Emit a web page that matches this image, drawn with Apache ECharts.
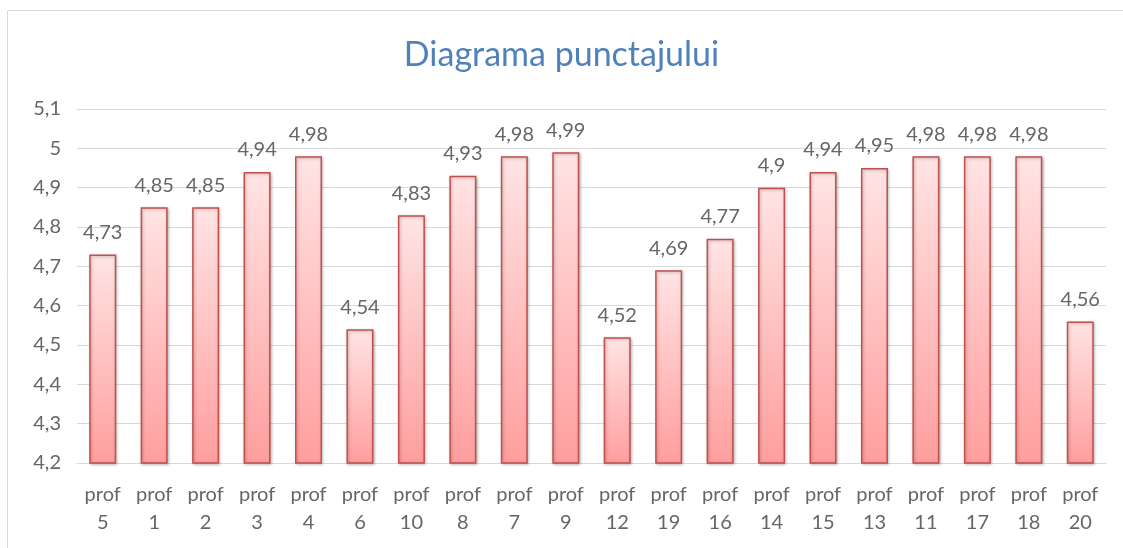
<!DOCTYPE html>
<html>
<head>
<meta charset="utf-8">
<script src="https://cdn.jsdelivr.net/npm/echarts@6/dist/echarts.min.js"></script>
<style>
  html, body { margin: 0; padding: 0; background: #fff; }
  #main { width: 1123px; height: 548px; }
</style>
</head>
<body>
<div id="main"></div>
<script>
var categories = ['prof\n5', 'prof\n1', 'prof\n2', 'prof\n3', 'prof\n4', 'prof\n6', 'prof\n10', 'prof\n8', 'prof\n7', 'prof\n9',
    'prof\n12', 'prof\n19', 'prof\n16', 'prof\n14', 'prof\n15', 'prof\n13', 'prof\n11', 'prof\n17', 'prof\n18', 'prof\n20'];
var scores = [4.73, 4.85, 4.85, 4.94, 4.98, 4.54, 4.83, 4.93, 4.98, 4.99,
    4.52, 4.69, 4.77, 4.9, 4.94, 4.95, 4.98, 4.98, 4.98, 4.56];

var fontName = 'Lato, "Open Sans", sans-serif';
var textGrey = '#666666';

function comma(v) {
    return String(Math.round(v * 100) / 100).replace('.', ',');
}

var myChart = echarts.init(document.getElementById('main'));
myChart.setOption({
    backgroundColor: '#fff',
    animation: false,
    title: {
        text: 'Diagrama punctajului',
        left: 'center',
        top: 33,
        textStyle: {
            color: '#4F81BD',
            fontFamily: fontName,
            fontSize: 34,
            fontWeight: 'normal'
        }
    },
    graphic: [{
        type: 'rect',
        shape: {x: 7.5, y: 10.5, width: 1300, height: 700},
        style: {fill: 'none', stroke: '#d9d9d9', lineWidth: 1},
        silent: true
    }],
    grid: {
        left: 77,
        right: 17,
        top: 109,
        bottom: 85
    },
    xAxis: {
        type: 'category',
        data: categories,
        axisLine: {lineStyle: {color: '#d9d9d9'}},
        axisTick: {show: false},
        axisLabel: {
            color: textGrey,
            fontFamily: fontName,
            fontSize: 20,
            lineHeight: 28,
            margin: 18,
            interval: 0
        }
    },
    yAxis: {
        type: 'value',
        min: 4.2,
        max: 5.1,
        interval: 0.1,
        axisLine: {show: false},
        axisTick: {show: false},
        splitLine: {lineStyle: {color: '#d9d9d9'}},
        axisLabel: {
            color: textGrey,
            fontFamily: fontName,
            fontSize: 20,
            margin: 16,
            formatter: function (v) { return comma(Math.round(v * 10) / 10); }
        }
    },
    series: [{
        type: 'bar',
        data: scores,
        barWidth: 27,
        itemStyle: {
            color: new echarts.graphic.LinearGradient(0, 0, 0, 1, [
                {offset: 0, color: '#FFE4E4'},
                {offset: 1, color: '#FF9E9E'}
            ]),
            borderColor: '#C0504D',
            borderWidth: 1.5,
            shadowColor: 'rgba(0,0,0,0.25)',
            shadowBlur: 3,
            shadowOffsetX: 1,
            shadowOffsetY: 1
        },
        label: {
            show: true,
            position: 'top',
            distance: 12,
            color: textGrey,
            fontFamily: fontName,
            fontSize: 20,
            formatter: function (p) { return comma(p.value); }
        }
    }]
});
</script>
</body>
</html>
